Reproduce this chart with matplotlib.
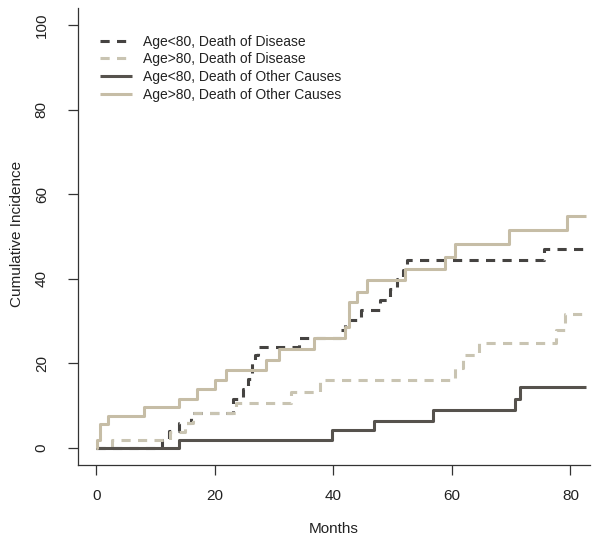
import matplotlib
matplotlib.use("Agg")
import matplotlib.pyplot as plt

plt.rcParams['font.family'] = ['Liberation Sans', 'DejaVu Sans']

# ---- data (months, cumulative incidence %) ----
end_time = 82.6

t_lt80_disease = [0, 11.0, 12.3, 14.0, 16.0, 23.0, 24.7, 25.6, 26.2, 26.8, 27.3, 34.2,
                  41.3, 42.0, 44.7, 47.8, 49.5, 50.8, 51.7, 52.4, 75.5]
v_lt80_disease = [0, 2.0, 4.0, 6.0, 8.2, 11.7, 14.0, 16.3, 20.0, 22.0, 24.0, 25.9,
                  27.9, 30.2, 32.6, 35.0, 37.6, 40.0, 42.2, 44.4, 47.0]

t_gt80_disease = [0, 2.7, 12.5, 15.0, 16.3, 23.6, 32.9, 37.7, 60.5, 61.8, 64.5, 77.5, 79.0]
v_gt80_disease = [0, 1.9, 3.8, 6.0, 8.2, 10.6, 13.3, 16.1, 18.9, 22.0, 24.8, 28.0, 31.6]

t_lt80_other = [0, 14.0, 39.8, 46.9, 56.8, 70.7, 71.5]
v_lt80_other = [0, 1.9, 4.3, 6.5, 9.1, 11.7, 14.5]

t_gt80_other = [0, 0.1, 0.6, 1.9, 8.0, 14.0, 16.9, 20.0, 21.9, 28.7, 30.9, 36.8, 41.9,
                42.7, 43.9, 45.7, 52.0, 58.8, 60.5, 69.7, 79.5]
v_gt80_other = [0, 1.9, 5.7, 7.5, 9.8, 11.7, 13.9, 16.1, 18.4, 20.8, 23.4, 25.9, 28.7,
                34.6, 37.0, 39.8, 42.4, 45.1, 48.2, 51.5, 54.8]

labels = ["Age<80, Death of Disease", "Age>80, Death of Disease",
          "Age<80, Death of Other Causes", "Age>80, Death of Other Causes"]
x_ticks = [0, 20, 40, 60, 80]
y_ticks = [0, 20, 40, 60, 80, 100]

dark_dash = "#454341"
dark = "#56524d"
tan = "#c6bda6"
light_dash = "#c9c4b2"

fig = plt.figure(figsize=(6.04, 5.45), dpi=100)
ax = fig.add_axes([78/604, 1-465/545, 512/604, 457/545])

series = [
    (t_lt80_disease, v_lt80_disease, dark_dash, (0, (3, 2.4))),
    (t_gt80_disease, v_gt80_disease, light_dash, (0, (3, 2.4))),
    (t_lt80_other, v_lt80_other, dark, '-'),
    (t_gt80_other, v_gt80_other, tan, '-'),
]
handles = []
for (t, v, c, ls), lab in zip(series, labels):
    tt = list(t) + [end_time]
    vv = list(v) + [v[-1]]
    ln, = ax.plot(tt, vv, drawstyle='steps-post', color=c, linestyle=ls, lw=2.2,
                  solid_capstyle='butt', dash_capstyle='butt', label=lab)
    handles.append(ln)

ax.set_xlim(-3.1, 83.3)
ax.set_ylim(-4, 104)
ax.set_xticks(x_ticks)
ax.set_yticks(y_ticks)
for s in ['top', 'right']:
    ax.spines[s].set_visible(False)
for s in ['left', 'bottom']:
    ax.spines[s].set_color('#333333')
    ax.spines[s].set_linewidth(0.9)
ax.tick_params(axis='both', length=7, width=0.9, color='#333333', labelsize=11,
               labelcolor='#222222')
ax.tick_params(axis='y', pad=14)
ax.tick_params(axis='x', pad=10)
for lbl in ax.get_yticklabels():
    lbl.set_rotation(90)
    lbl.set_va('center')

ax.set_xlabel("Months", fontsize=11, color='#222222')
ax.xaxis.set_label_coords(0.5, -0.125)
ax.set_ylabel("Cumulative Incidence", fontsize=11, color='#222222')
ax.yaxis.set_label_coords(-0.105, 0.505)

leg = ax.legend(handles=handles, loc='upper left', bbox_to_anchor=(0.043, 0.942),
                frameon=False, fontsize=10, handlelength=2.3, handletextpad=0.8,
                labelspacing=0.27, borderpad=0, borderaxespad=0)
for txt in leg.get_texts():
    txt.set_color('#222222')

fig.savefig("out.png", dpi=100)
